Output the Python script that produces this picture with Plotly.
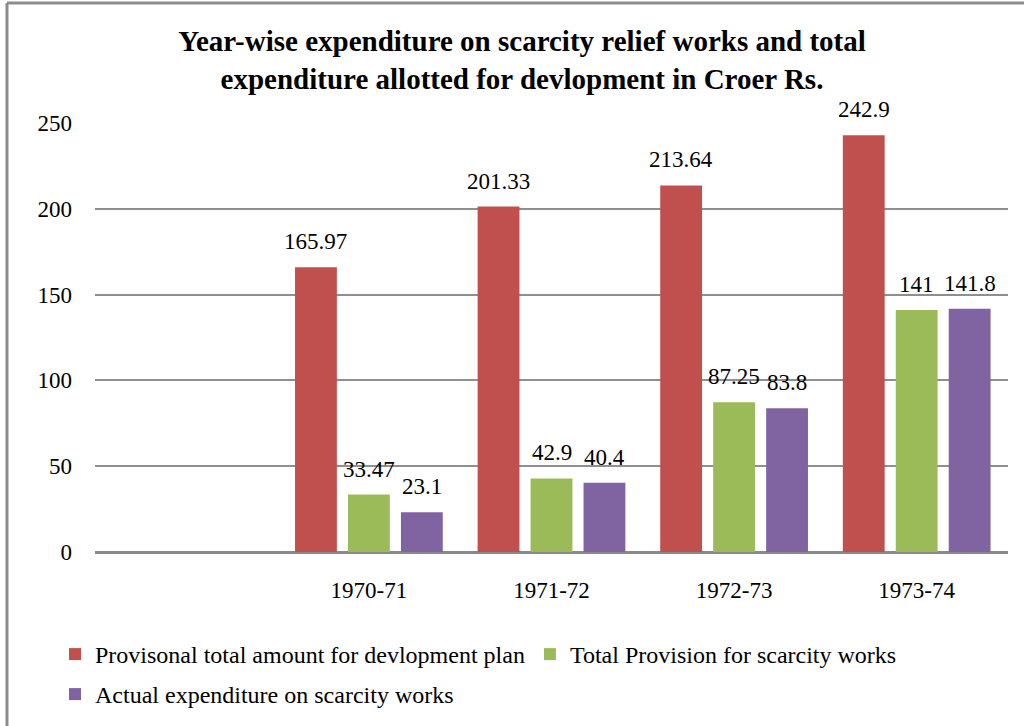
import plotly.graph_objects as go

categories = ["", "1970-71", "1971-72", "1972-73", "1973-74"]
provisional_total = [None, 165.97, 201.33, 213.64, 242.9]
provision_scarcity = [None, 33.47, 42.9, 87.25, 141]
actual_scarcity = [None, 23.1, 40.4, 83.8, 141.8]
series_names = [
    "Provisonal total amount for devlopment plan",
    "Total Provision for scarcity works",
    "Actual expenditure on scarcity works",
]
colors = ["#C0504D", "#9BBB59", "#8064A2"]
y_ticks = [0, 50, 100, 150, 200, 250]

FONT = "Liberation Serif, Times New Roman, serif"
W, H = 1024, 726
ML, MR, MT, MB = 95, 16, 123, 174
BARGAP, GROUPGAP = 0.13, 0.21

xs = list(range(len(categories)))
series = [provisional_total, provision_scarcity, actual_scarcity]

def fmt(v):
    return "" if v is None else f"{v:g}"

fig = go.Figure()
annotations = []
n = len(series)
slot = (1 - BARGAP) / n
for i, (name, vals, col, leg) in enumerate(zip(series_names, series, colors,
                                               ["legend", "legend", "legend2"])):
    fig.add_trace(go.Bar(
        x=xs, y=vals, name=name, marker=dict(color=col, line=dict(width=0)),
        legend=leg,
    ))
    for xv, v in zip(xs, vals):
        if v is None:
            continue
        annotations.append(dict(
            x=xv + (i - (n - 1) / 2) * slot, y=v, xref="x", yref="y",
            text=fmt(v), showarrow=False, yanchor="bottom", yshift=11,
            font=dict(family=FONT, size=23, color="black"),
        ))

pw = W - ML - MR
ph = H - MT - MB
def px_to_paper_x(p):
    return (p - ML) / pw
def px_to_paper_y(p):
    return (H - MB - p) / ph

fig.update_layout(
    width=W, height=H,
    margin=dict(l=ML, r=MR, t=MT, b=MB, autoexpand=False),
    paper_bgcolor="white", plot_bgcolor="white",
    barmode="group", bargap=BARGAP, bargroupgap=GROUPGAP,
    font=dict(family=FONT, size=23, color="black"),
    title=dict(
        text="<b>Year-wise expenditure on scarcity relief works and total<br>expenditure allotted for devlopment in Croer Rs.</b>",
        x=522 / W, xanchor="center", xref="container",
        y=1 - 51 / H, yanchor="middle", yref="container",
        font=dict(family=FONT, size=29, color="black"),
    ),
    xaxis=dict(
        tickmode="array", tickvals=xs, ticktext=categories,
        range=[-0.5, len(categories) - 0.5],
        showgrid=False, zeroline=False, showline=False,
        ticks="", ticklabelstandoff=22,
        tickfont=dict(family=FONT, size=23, color="black"),
    ),
    yaxis=dict(
        range=[0, 250], tickvals=y_ticks,
        showgrid=True, gridcolor="#8F8F8F", gridwidth=2,
        zeroline=True, zerolinecolor="#8A8A8A", zerolinewidth=3,
        showline=False, ticks="", ticklabelstandoff=22,
        tickfont=dict(family=FONT, size=23, color="black"),
    ),
    annotations=annotations,
    showlegend=True,
    legend=dict(
        orientation="h", x=px_to_paper_x(55), xanchor="left",
        y=px_to_paper_y(632), yanchor="top",
        font=dict(family=FONT, size=24, color="black"),
        bgcolor="rgba(0,0,0,0)",
    ),
    legend2=dict(
        orientation="h", x=px_to_paper_x(55), xanchor="left",
        y=px_to_paper_y(672), yanchor="top",
        font=dict(family=FONT, size=24, color="black"),
        bgcolor="rgba(0,0,0,0)",
    ),
    shapes=[
        dict(type="line", xref="paper", yref="paper",
             x0=px_to_paper_x(7), x1=px_to_paper_x(7),
             y0=px_to_paper_y(3), y1=px_to_paper_y(H),
             line=dict(color="#8C8C8C", width=3)),
        dict(type="line", xref="paper", yref="paper",
             x0=px_to_paper_x(7), x1=px_to_paper_x(W),
             y0=px_to_paper_y(3), y1=px_to_paper_y(3),
             line=dict(color="#8C8C8C", width=3)),
    ],
)

fig.write_html("out.html")
